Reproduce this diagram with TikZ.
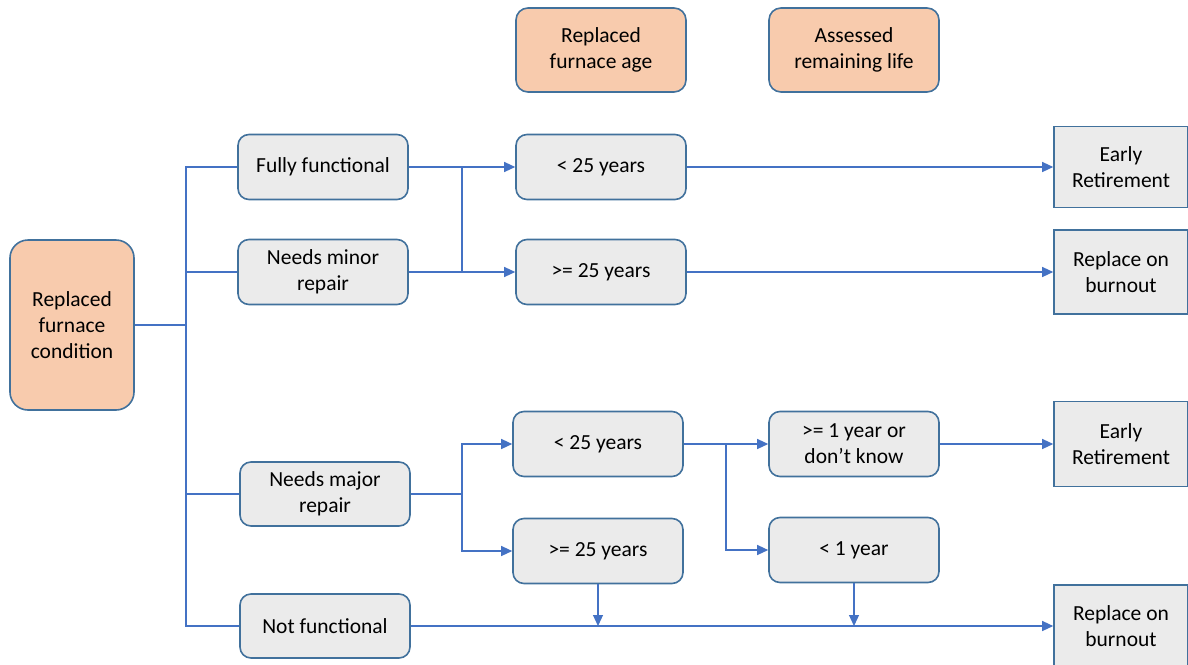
\documentclass[tikz,border=0pt]{standalone}
\usepackage{fontspec}
\setmainfont{Carlito}
\usetikzlibrary{arrows.meta}
\definecolor{orangefill}{HTML}{F8CBAD}
\definecolor{grayfill}{HTML}{EBEBEB}
\definecolor{boxborder}{HTML}{41719C}
\definecolor{linecol}{HTML}{4472C4}
\begin{document}
\begin{tikzpicture}[x=1pt,y=-1pt,
  every node/.style={font=\fontsize{21.5}{26}\selectfont, align=center, inner sep=0pt},
  base/.style={draw=boxborder, line width=1.6pt},
  cat/.style={base, fill=orangefill, rounded corners=12pt, minimum width=170pt, minimum height=84pt},
  opt/.style={base, fill=grayfill, rounded corners=11pt, minimum width=170pt, minimum height=65pt},
  outc/.style={base, fill=grayfill, minimum width=134pt},
  conn/.style={draw=linecol, line width=1.2pt},
  arr/.style={conn, -{Triangle[length=11pt,width=10pt]}}
]
\useasboundingbox (0,0) rectangle (1188,664);
% header / root nodes
\node[cat, rounded corners=18pt, minimum width=124pt, minimum height=170pt] (cond) at (72,325) {Replaced\\furnace\\condition};
\node[cat] (age) at (601,50) {Replaced\\furnace age};
\node[cat] (life) at (854,50) {Assessed\\remaining life};
% condition options
\node[opt] (fully) at (323,167) {Fully functional};
\node[opt] (minor) at (323,272) {Needs minor\\repair};
\node[opt, minimum height=64pt] (major) at (325,494) {Needs major\\repair};
\node[opt, minimum height=64pt] (notf) at (325,626) {Not functional};
% age options
\node[opt] (lta) at (601,167) {< 25 years};
\node[opt] (gea) at (601,272) {>= 25 years};
\node[opt] (ltb) at (598,444) {< 25 years};
\node[opt] (geb) at (598,551) {>= 25 years};
% remaining life
\node[opt] (ge1) at (854,444) {>= 1 year or\\don’t know};
\node[opt] (lt1) at (854,550) {< 1 year};
% outcomes
\node[outc, minimum height=81pt] (er1) at (1121,167) {Early\\Retirement};
\node[outc, minimum height=84pt] (rb1) at (1121,272) {Replace on\\burnout};
\node[outc, minimum height=85pt] (er2) at (1121,444) {Early\\Retirement};
\node[outc, minimum height=82pt] (rb2) at (1121,626) {Replace on\\burnout};
% junction coordinates
\coordinate (j1) at (186,325);
\coordinate (j2) at (462,167);
\coordinate (j3) at (462,494);
\coordinate (j4) at (726,444);
\coordinate (d1) at (geb.south |- notf.east);
\coordinate (d2) at (lt1.south |- notf.east);
% root tree
\draw[conn] (cond.east) -- (j1);
\draw[conn] (fully.west) -| (j1) |- (notf.west);
\draw[conn] (j1) |- (minor.west);
\draw[conn] (j1) |- (major.west);
% first branch
\draw[arr] (fully.east) -- (lta.west);
\draw[arr] (minor.east) -- (gea.west);
\draw[conn] (j2) -- (j2 |- minor.east);
\draw[arr] (lta.east) -- (er1.west);
\draw[arr] (gea.east) -- (rb1.west);
% major repair branch
\draw[conn] (major.east) -- (j3);
\draw[arr] (j3) |- (ltb.west);
\draw[arr] (j3) |- (geb.west);
\draw[conn] (ltb.east) -- (j4);
\draw[arr] (j4) -- (ge1.west);
\draw[arr] (j4) |- (lt1.west);
\draw[arr] (ge1.east) -- (er2.west);
% not functional
\draw[arr] (notf.east) -- (rb2.west);
\draw[arr] (geb.south) -- (d1);
\draw[arr] (lt1.south) -- (d2);
\end{tikzpicture}
\end{document}
